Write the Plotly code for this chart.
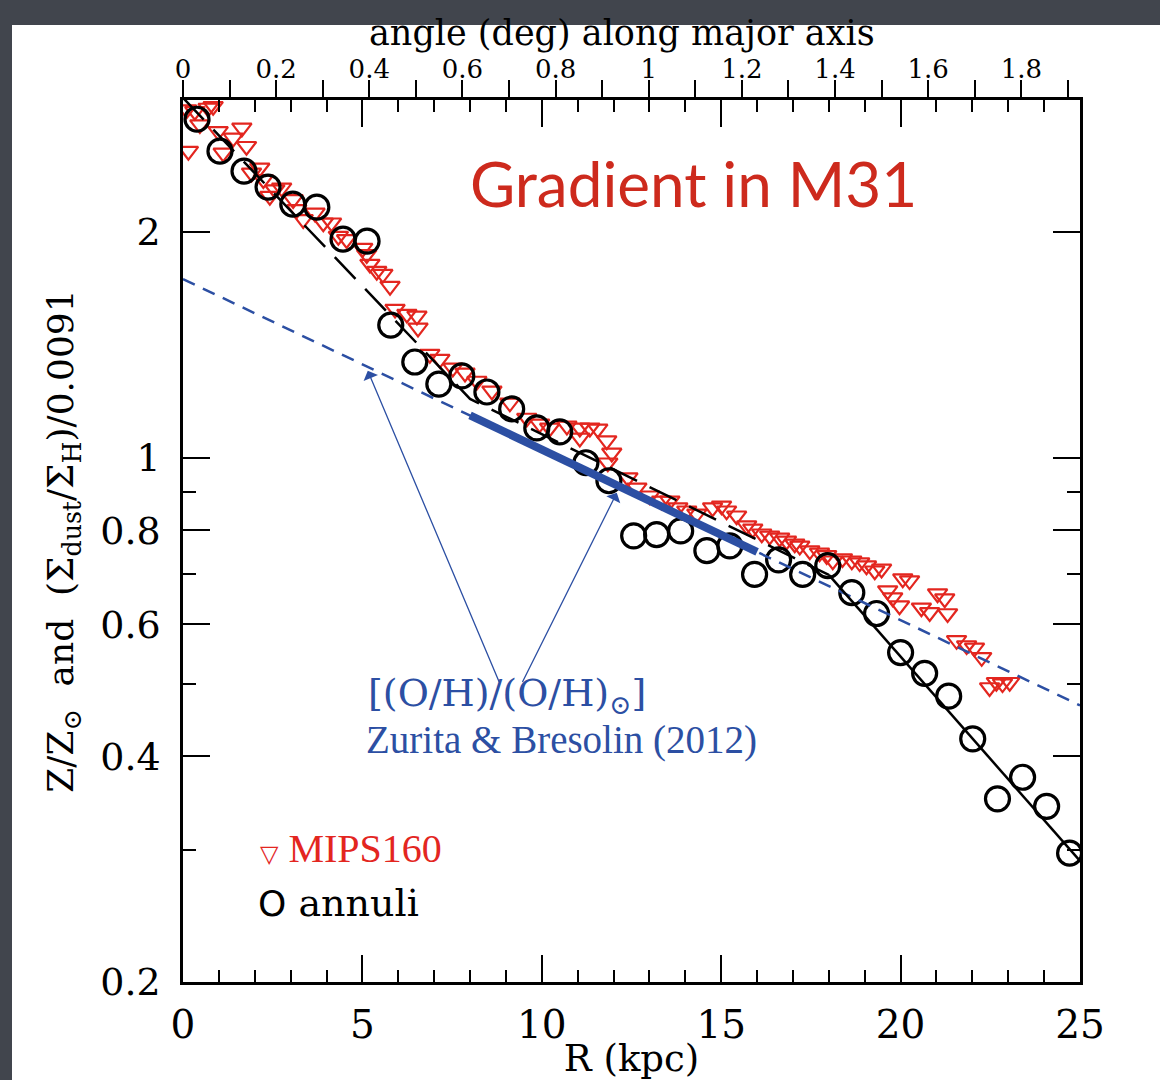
import plotly.graph_objects as go
import math

# ---------------- data ----------------
# annuli (black open circles)
annuli_R = [0.39, 1.03, 1.70, 2.37, 3.06, 3.73, 4.46, 5.13, 5.79, 6.46, 7.13, 7.77, 8.47,
            9.16, 9.86, 10.50, 11.23, 11.87, 12.56, 13.20, 13.87, 14.60, 15.24, 15.93,
            16.60, 17.27, 17.97, 18.64, 19.33, 20.00, 20.67, 21.34, 22.01, 22.70, 23.40,
            24.07, 24.71]
annuli_Z = [2.828, 2.564, 2.411, 2.296, 2.179, 2.159, 1.957, 1.945, 1.503, 1.342, 1.254,
            1.286, 1.224, 1.162, 1.096, 1.083, 0.985, 0.932, 0.787, 0.790, 0.799, 0.752,
            0.763, 0.699, 0.731, 0.699, 0.718, 0.661, 0.620, 0.550, 0.516, 0.481, 0.422,
            0.351, 0.375, 0.343, 0.297]

# MIPS160 (red open down-triangles)
mips_R = [0.10, 0.15, 0.33, 0.47, 0.70, 0.84, 0.98, 1.12, 1.40, 1.64, 1.77, 1.91, 2.14,
          2.24, 2.42, 2.56, 2.75, 3.07, 3.17, 3.35, 3.68, 3.91, 4.14, 4.33, 4.56, 5.01,
          5.12, 5.21, 5.40, 5.57, 5.77, 5.91, 6.24, 6.52, 6.55, 6.88, 7.16, 7.52, 7.86,
          8.19, 8.61, 9.11, 9.58, 9.94, 10.22, 10.70, 11.06, 11.34, 11.56, 11.06, 11.81,
          11.95, 11.84, 12.40, 12.65, 13.01, 13.34, 13.57, 13.79, 14.04, 14.32, 14.76,
          15.01, 15.15, 15.43, 15.71, 15.88, 16.13, 16.35, 16.63, 16.82, 17.05, 17.19,
          17.47, 17.74, 17.94, 18.11, 18.38, 18.64, 18.86, 19.05, 19.28, 19.47, 19.64,
          19.78, 19.97, 20.06, 20.25, 20.58, 20.81, 21.03, 21.23, 21.31, 21.56, 21.84,
          22.06, 22.26, 22.48, 22.67, 22.84, 23.04]
mips_Z = [2.913, 2.564, 2.898, 2.782, 2.927, 2.943, 2.725, 2.550, 2.670, 2.754, 2.603,
          2.398, 2.435, 2.350, 2.233, 2.279, 2.291, 2.211, 2.144, 2.079, 2.121, 2.058,
          2.058, 1.975, 1.955, 1.904, 1.867, 1.813, 1.774, 1.758, 1.694, 1.579, 1.555,
          1.546, 1.490, 1.375, 1.354, 1.318, 1.298, 1.266, 1.228, 1.184, 1.130, 1.110,
          1.096, 1.103, 1.096, 1.096, 1.093, 1.063, 1.054, 1.015, 0.985, 0.941, 0.912,
          0.890, 0.876, 0.876, 0.858, 0.850, 0.842, 0.858, 0.863, 0.850, 0.837, 0.812,
          0.804, 0.792, 0.787, 0.782, 0.775, 0.768, 0.763, 0.752, 0.747, 0.741, 0.729,
          0.734, 0.729, 0.725, 0.718, 0.707, 0.711, 0.665, 0.651, 0.635, 0.690, 0.686,
          0.631, 0.622, 0.659, 0.649, 0.620, 0.571, 0.562, 0.558, 0.542, 0.494, 0.502,
          0.500, 0.502]

# black model line (dashed inner part, solid outer part)
model_dash_R = [0, 8, 18]
model_dash_Z = [3.02, 1.198, 0.698]
model_solid_R = [18, 25]
model_solid_Z = [0.698, 0.290]

# Zurita & Bresolin (2012) gradient
zb_R = [0, 25]
zb_Z = [1.731, 0.4676]
zb_thick_R = [8, 16]
zb_thick_Z = [1.139, 0.749]

# axis ticks
x_major = [0, 5, 10, 15, 20, 25]
x_minor = [v for v in range(1, 25) if v % 5 != 0]
y_major = [0.2, 0.4, 0.6, 0.8, 1, 2]
y_major_text = ["0.2", "0.4", "0.6", "0.8", "1", "2"]
y_minor = [0.3, 0.5, 0.7, 0.9]
kpc_per_deg = 12.98
ang_major = [0, 0.2, 0.4, 0.6, 0.8, 1.0, 1.2, 1.4, 1.6, 1.8]
ang_major_text = ["0", "0.2", "0.4", "0.6", "0.8", "1", "1.2", "1.4", "1.6", "1.8"]
ang_minor = [0.1, 0.3, 0.5, 0.7, 0.9, 1.1, 1.3, 1.5, 1.7, 1.9]

RED = "#e3261f"
BLUE = "#2c4fa3"
SERIF = "DejaVu Serif"

fig = go.Figure()

fig.add_trace(go.Scatter(x=mips_R, y=mips_Z, mode="markers", showlegend=False,
                         marker=dict(symbol="triangle-down-open", size=17, color=RED,
                                     line=dict(width=2.2, color=RED))))
fig.add_trace(go.Scatter(x=annuli_R, y=annuli_Z, mode="markers", showlegend=False,
                         marker=dict(symbol="circle-open", size=24, color="black",
                                     line=dict(width=3.2, color="black"))))
fig.add_trace(go.Scatter(x=zb_R, y=zb_Z, mode="lines", showlegend=False,
                         line=dict(color=BLUE, width=2.5, dash="13px,9px")))
fig.add_trace(go.Scatter(x=zb_thick_R, y=zb_thick_Z, mode="lines", showlegend=False,
                         line=dict(color=BLUE, width=8)))
fig.add_trace(go.Scatter(x=model_dash_R, y=model_dash_Z, mode="lines", showlegend=False,
                         line=dict(color="black", width=2.5, dash="30px,14px")))
fig.add_trace(go.Scatter(x=model_solid_R, y=model_solid_Z, mode="lines", showlegend=False,
                         line=dict(color="black", width=2.5)))

# empty traces to activate overlay axes
fig.add_trace(go.Scatter(x=[None], y=[None], xaxis="x2", yaxis="y", showlegend=False, hoverinfo="skip"))
fig.add_trace(go.Scatter(x=[None], y=[None], xaxis="x3", yaxis="y", showlegend=False, hoverinfo="skip"))
fig.add_trace(go.Scatter(x=[None], y=[None], xaxis="x", yaxis="y2", showlegend=False, hoverinfo="skip"))

ylog_range = [math.log10(0.2), math.log10(3.0)]

fig.update_layout(
    width=1160, height=1080,
    margin=dict(l=183, r=80, t=100, b=98),
    paper_bgcolor="#41454d",
    plot_bgcolor="white",
    xaxis=dict(range=[0, 25], showline=True, linecolor="black", linewidth=2.5, mirror=True,
               automargin=False,
               ticks="inside", tickmode="array", tickvals=x_major, ticklen=27, tickwidth=1.5,
               tickcolor="black", showgrid=False, zeroline=False,
               minor=dict(tickmode="array", tickvals=x_minor, ticks="inside", ticklen=12,
                          tickwidth=1.5, tickcolor="black", showgrid=False),
               tickfont=dict(family=SERIF, size=39, color="black"), ticklabelstandoff=6,
               title=dict(text="R (kpc)", font=dict(family=SERIF, size=37, color="black"),
                          standoff=0)),
    xaxis2=dict(overlaying="x", side="top", anchor="y", range=[0, 25 / kpc_per_deg],
                automargin=False,
                ticks="outside", tickmode="array", tickvals=ang_major, ticktext=ang_major_text,
                ticklen=19, tickwidth=1.5, tickcolor="black", showgrid=False, zeroline=False,
                showline=False,
                minor=dict(tickmode="array", tickvals=ang_minor, ticks="outside", ticklen=19,
                           tickwidth=1.5, tickcolor="black", showgrid=False),
                tickfont=dict(family=SERIF, size=26, color="black"), ticklabelstandoff=-8),
    xaxis3=dict(overlaying="x", side="top", anchor="y", range=[0, 25], showticklabels=False,
                automargin=False,
                ticks="inside", tickmode="array", tickvals=x_major, ticklen=27, tickwidth=1.5,
                tickcolor="black", showgrid=False, zeroline=False, showline=False,
                minor=dict(tickmode="array", tickvals=x_minor, ticks="inside", ticklen=12,
                           tickwidth=1.5, tickcolor="black", showgrid=False)),
    yaxis=dict(type="log", range=ylog_range, showline=True, linecolor="black", linewidth=2.5,
               automargin=False,
               mirror=True, ticks="inside", tickmode="array", tickvals=y_major,
               ticktext=y_major_text, ticklen=27, tickwidth=1.5, tickcolor="black",
               showgrid=False, zeroline=False,
               minor=dict(tickmode="array", tickvals=y_minor, ticks="inside", ticklen=13,
                          tickwidth=1.5, tickcolor="black", showgrid=False),
               tickfont=dict(family=SERIF, size=38, color="black"), ticklabelstandoff=12,
               title=dict(text="Z/Z<sub>⊙</sub>\u00a0\u00a0and\u00a0\u00a0(Σ<sub>dust</sub>/Σ<sub>H</sub>)/0.0091",
                          font=dict(family=SERIF, size=36, color="black"), standoff=16)),
    yaxis2=dict(type="log", overlaying="y", side="right", anchor="x", range=ylog_range,
                automargin=False,
                showticklabels=False, ticks="inside", tickmode="array", tickvals=y_major,
                ticklen=27, tickwidth=1.5, tickcolor="black", showgrid=False, zeroline=False,
                showline=False,
                minor=dict(tickmode="array", tickvals=y_minor, ticks="inside", ticklen=13,
                           tickwidth=1.5, tickcolor="black", showgrid=False)),
    shapes=[dict(type="rect", xref="paper", yref="paper", x0=(12 - 183) / 897, x1=(1165 - 183) / 897,
                 y0=(982 - 1090) / 882, y1=(982 - 25) / 882, fillcolor="white",
                 line=dict(width=0), layer="below")],
    showlegend=False,
)

annotations = [
    dict(text="angle (deg) along major axis", xref="paper", yref="paper",
         x=(622 - 183) / 897, y=(982 - 33) / 882, showarrow=False,
         font=dict(family=SERIF, size=35, color="black"), xanchor="center", yanchor="middle"),
    dict(text="Gradient in M31", xref="paper", yref="paper", x=0.5686, y=0.906,
         showarrow=False, font=dict(family="Lato", size=62, color="#cd2a1d"),
         xanchor="center", yanchor="middle"),
    dict(text="<span style='font-family:DejaVu Sans;font-size:24px'>▽</span> MIPS160",
         xref="paper", yref="paper", x=(258 - 183) / 897, y=(982 - 848) / 882,
         showarrow=False, font=dict(family="Liberation Serif", size=40, color=RED),
         xanchor="left", yanchor="middle"),
    dict(text="<span style='font-family:DejaVu Sans;font-size:36px'>O</span> annuli",
         xref="paper", yref="paper", x=(256 - 183) / 897, y=(982 - 903) / 882,
         showarrow=False, font=dict(family=SERIF, size=38, color="black"),
         xanchor="left", yanchor="middle"),
    dict(text="[(O/H)/(O/H)<sub>⊙</sub>]", xref="paper", yref="paper",
         x=(366 - 183) / 897, y=(982 - 695) / 882, showarrow=False,
         font=dict(family=SERIF, size=38, color=BLUE), xanchor="left", yanchor="middle"),
    dict(text="Zurita &amp; Bresolin (2012)", xref="paper", yref="paper",
         x=(364 - 183) / 897, y=(982 - 740) / 882, showarrow=False,
         font=dict(family="Liberation Serif", size=39, color=BLUE),
         xanchor="left", yanchor="middle"),
    dict(text="", x=5.15, y=math.log10(1.306), xref="x", yref="y",
         ax=8.83, ay=math.log10(0.50), axref="x", ayref="y", showarrow=True,
         arrowhead=1, arrowsize=2, arrowwidth=1.3, arrowcolor=BLUE),
    dict(text="", x=12.09, y=math.log10(0.898), xref="x", yref="y",
         ax=9.44, ay=math.log10(0.50), axref="x", ayref="y", showarrow=True,
         arrowhead=1, arrowsize=2, arrowwidth=1.3, arrowcolor=BLUE),
]
fig.update_layout(annotations=annotations)

fig.write_html("out.html", config={"displayModeBar": False},
               post_script="document.body.style.margin='0';document.body.style.background='#41454d';")
